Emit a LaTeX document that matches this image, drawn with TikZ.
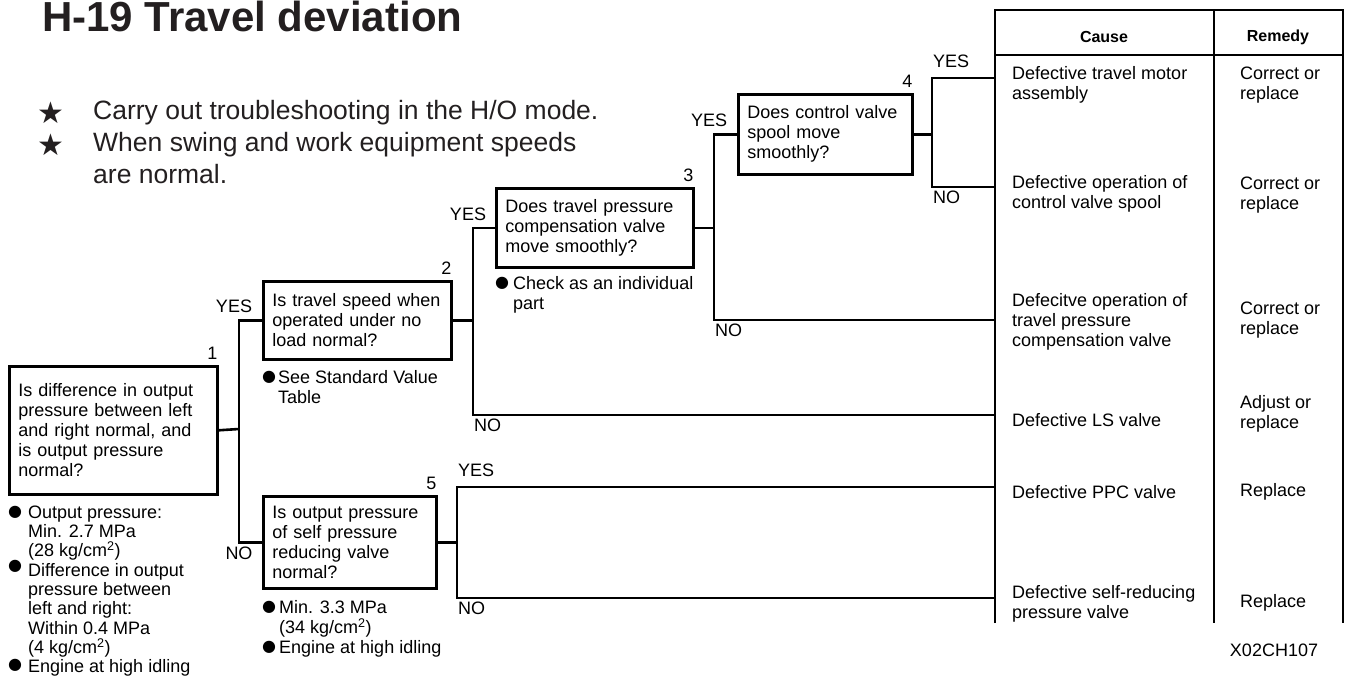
\documentclass[tikz,border=0pt]{standalone}
\usepackage{fontspec}
\setmainfont{Liberation Sans}
\newfontfamily\symfont{DejaVu Sans}
\usetikzlibrary{positioning}
\definecolor{inkgray}{HTML}{231F20}
\newcommand\fs{\fontsize{18}{20}\selectfont}

\begin{document}
\begin{tikzpicture}[x=1pt,y=-1pt,
qbox/.style={draw,line width=2.6pt,anchor=north west,align=left,font=\fs,inner xsep=9pt,inner ysep=2pt},
num/.style={anchor=south east,font=\fs,inner sep=1pt,yshift=4pt},
wire/.style={line width=2.6pt},
lbl/.style={font=\fs,inner sep=1pt},
yes/.style={lbl,anchor=south,xshift=-5pt,yshift=6pt},
yesr/.style={lbl,anchor=south west,yshift=9pt},
no/.style={lbl,anchor=north west,yshift=-3pt},
note/.style={font=\fs,align=left,anchor=north west,inner sep=0pt},
cell/.style={font=\fs,align=left,anchor=west,inner sep=0pt},
dot/.style={font=\symfont\fontsize{16}{20}\selectfont,inner sep=0pt},
head/.style={font=\bfseries\fontsize{16}{20}\selectfont,inner sep=0pt},
hint/.style={anchor=base west,inner sep=0pt,text=inkgray,font=\fontsize{26.5}{32}\selectfont},
star/.style={text=inkgray,inner sep=0pt,font=\symfont\fontsize{30}{32}\selectfont}]
\useasboundingbox (0,0) rectangle (1348,679);

\node[anchor=base west,inner sep=0pt,text=inkgray,font=\bfseries\fontsize{42}{48}\selectfont] (title) at (42,32) {H-19 Travel deviation};
\node[star] (star1) at (51,113) {★};
\node[star] (star2) at (51,145) {★};
\node[hint] (hint1) at (93,120) {Carry out troubleshooting in the H/O mode.};
\node[hint] (hint2) at (93,152) {When swing and work equipment speeds};
\node[hint] (hint3) at (93,184) {are normal.};

\node[qbox,text width=190pt,minimum height=128pt] (q1) at (8,365) {Is difference in output\\pressure between left\\and right normal, and\\is output pressure\\normal?};
\node[qbox,text width=170pt,minimum height=78pt] (q2) at (262,280) {Is travel speed when\\operated under no\\load normal?};
\node[qbox,text width=179pt,minimum height=79pt] (q3) at (495,187) {Does travel pressure\\compensation valve\\move smoothly?};
\node[qbox,text width=156pt,minimum height=80pt] (q4) at (737,93) {Does control valve\\spool move\\smoothly?};
\node[qbox,text width=155pt,minimum height=92pt] (q5) at (262,495) {Is output pressure\\of self pressure\\reducing valve\\normal?};

\node[num] (n1) at (q1.north east) {1};
\node[num] (n2) at (q2.north east) {2};
\node[num] (n3) at (q3.north east) {3};
\node[num] (n4) at (q4.north east) {4};
\node[num] (n5) at (q5.north east) {5};

\node[dot] (b11) at (15,512) {●};
\node[dot] (b12) at (15,566) {●};
\node[dot] (b13) at (15,665) {●};
\node[note,font=\fontsize{18}{19.3}\selectfont] (m1) at (28,505.5) {Output pressure:\\Min. 2.7 MPa\\(28 kg/cm\textsuperscript{2})\\Difference in output\\pressure between\\left and right:\\Within 0.4 MPa\\(4 kg/cm\textsuperscript{2})\\Engine at high idling};
\node[dot] (b21) at (269,377) {●};
\node[note] (m2) at (278,370.5) {See Standard Value\\Table};
\node[dot] (b31) at (502,283) {●};
\node[note] (m3) at (513,276.5) {Check as an individual\\part};
\node[dot] (b51) at (269,607) {●};
\node[dot] (b52) at (269,647) {●};
\node[note] (m5) at (279,600.5) {Min. 3.3 MPa\\(34 kg/cm\textsuperscript{2})\\Engine at high idling};

\coordinate (j1) at (239,429);
\coordinate (j2) at (473,320);
\coordinate (j3) at (714,227);
\coordinate (j4) at (932,133);
\coordinate (j5) at (457,541);
\coordinate (e1) at (995,78);
\coordinate (e2) at (995,187);
\coordinate (e3) at (995,320);
\coordinate (e4) at (995,415);
\coordinate (e5) at (995,487);
\coordinate (e6) at (995,598);

\draw[wire] (q1.east) -- (j1);
\draw[wire] (q2.west) -| (j1) |- (q5.west);
\draw[wire] (q2.east) -- (q2.east -| j2);
\draw[wire] (q3.west) -| (j2) |- (e4);
\draw[wire] (q3.east) -- (q3.east -| j3);
\draw[wire] (q4.west) -| (j3) |- (e3);
\draw[wire] (q4.east) -- (q4.east -| j4);
\draw[wire] (e1) -| (j4) |- (e2);
\draw[wire] (q5.east) -- (q5.east -| j5);
\draw[wire] (e5) -| (j5) |- (e6);

\node[yes] (y1) at (j1 |- q2.west) {YES};
\node[lbl,anchor=north,yshift=-3pt] (o1) at (j1 |- q5.west) {NO};
\node[yes] (y2) at (j2 |- q3.west) {YES};
\node[no] (o2) at (j2 |- e4) {NO};
\node[yes] (y3) at (j3 |- q4.west) {YES};
\node[no] (o3) at (j3 |- e3) {NO};
\node[yesr] (y4) at (j4 |- e1) {YES};
\node[no] (o4) at (j4 |- e2) {NO};
\node[yesr] (y5) at (j5 |- e5) {YES};
\node[no] (o5) at (j5 |- e6) {NO};

\draw[wire] (995,623) |- (1343,10) -- (1343,623);
\draw[wire] (995,55) -- (1343,55);
\draw[wire] (1214,10) -- (1214,623);
\node[head] (hcause) at (1104,37) {Cause};
\node[head] (hremedy) at (1278,37) {Remedy};

\node[cell] (c1) at (1012,85) {Defective travel motor\\assembly};
\node[cell] (c2) at (1012,194) {Defective operation of\\control valve spool};
\node[cell] (c3) at (1012,322) {Defecitve operation of\\travel pressure\\compensation valve};
\node[cell] (c4) at (1012,420) {Defective LS valve};
\node[cell] (c5) at (1012,492) {Defective PPC valve};
\node[cell] (c6) at (1012,604) {Defective self-reducing\\pressure valve};
\node[cell] (r1) at (1240,85) {Correct or\\replace};
\node[cell] (r2) at (1240,195) {Correct or\\replace};
\node[cell] (r3) at (1240,320) {Correct or\\replace};
\node[cell] (r4) at (1240,414) {Adjust or\\replace};
\node[cell] (r5) at (1240,492) {Replace};
\node[cell] (r6) at (1240,603) {Replace};

\node[font=\fs,inner sep=0pt] (code) at (1274,650) {X02CH107};
\end{tikzpicture}
\end{document}
